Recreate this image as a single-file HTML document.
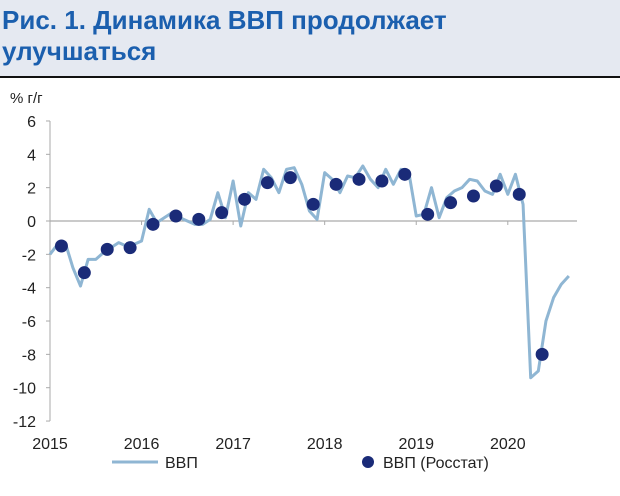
<!DOCTYPE html>
<html><head><meta charset="utf-8"><style>
body{margin:0;width:620px;height:496px;background:#fff;font-family:"Liberation Sans",sans-serif;overflow:hidden}
#hdr{position:absolute;left:0;top:0;width:620px;height:76px;background:#e5e9f1;border-bottom:2px solid #111}
#title{position:absolute;left:2px;top:5px;font-size:26px;font-weight:bold;color:#1b5fae;line-height:31px;white-space:nowrap}
</style></head><body>
<div id="hdr"><div id="title">Рис. 1. Динамика ВВП продолжает<br>улучшаться</div></div>
<svg id="chart" width="620" height="496" style="position:absolute;left:0;top:0"></svg>
<script>
const yTicks=[6,4,2,0,-2,-4,-6,-8,-10,-12];
const xYears=["2015","2016","2017","2018","2019","2020"];
const monthly=[-2.0,-1.4,-1.3,-2.8,-3.9,-2.3,-2.3,-1.9,-1.6,-1.3,-1.5,-1.4,
-1.2,0.7,-0.1,0.2,0.5,0.2,0.0,-0.2,-0.2,0.1,1.7,0.2,
2.4,-0.3,1.7,1.3,3.1,2.6,1.7,3.1,3.2,2.2,0.6,0.1,
2.9,2.5,1.7,2.7,2.6,3.3,2.5,2.0,3.1,2.2,3.1,3.0,
0.3,0.4,2.0,0.2,1.4,1.8,2.0,2.5,2.4,1.8,1.6,2.8,
1.6,2.8,1.0,-9.4,-9.0,-6.0,-4.6,-3.8,-3.3];
const quarterly=[-1.5,-3.1,-1.7,-1.6,-0.2,0.3,0.1,0.5,1.3,2.3,2.6,1.0,2.2,2.5,2.4,2.8,0.4,1.1,1.5,2.1,1.6,-8.0];
const svg=document.getElementById('chart');const NS='http://www.w3.org/2000/svg';
const X=m=>50+7.63*m; const Y=v=>221-v*16.67;
function el(t,a,p){const e=document.createElementNS(NS,t);for(const k in a)e.setAttribute(k,a[k]);(p||svg).appendChild(e);return e;}
let t=el('text',{x:10,y:103,'font-size':15,fill:'#222'});t.textContent='% г/г';


let ax=el('line',{x1:50,y1:Y(6),x2:50,y2:Y(-12),stroke:'#aaa','stroke-width':1});


yTicks.forEach(v=>{el('line',{x1:46,y1:Y(v),x2:50,y2:Y(v),stroke:'#aaa'});
const l=el('text',{x:36,y:Y(v)+6,'font-size':16,'text-anchor':'end',fill:'#222'});l.textContent=v;

});
let zx=el('line',{x1:50,y1:Y(0),x2:577,y2:Y(0),stroke:'#aaa','stroke-width':1.3});


xYears.forEach((y,i)=>{const x=X(12*i);el('line',{x1:x,y1:Y(0),x2:x,y2:Y(0)+4,stroke:'#aaa'});
const l=el('text',{x:x,y:449,'font-size':16,'text-anchor':'middle',fill:'#222'});l.textContent=y;

});
let pl=el('polyline',{points:monthly.map((v,i)=>X(i)+','+Y(v)).join(' '),fill:'none',stroke:'#8fb6d3','stroke-width':3,'stroke-linejoin':'round'});


quarterly.forEach((v,i)=>{const c=el('circle',{cx:X(1.5+3*i),cy:Y(v),r:6.5,fill:'#1a2b78'});

});
let ll=el('line',{x1:112,y1:462,x2:158,y2:462,stroke:'#8fb6d3','stroke-width':3});


let lt=el('text',{x:165,y:468,'font-size':16,fill:'#222'});lt.textContent='ВВП';


let lc=el('circle',{cx:368,cy:462,r:6,fill:'#1a2b78'});


let lt2=el('text',{x:383,y:468,'font-size':16,fill:'#222'});lt2.textContent='ВВП (Росстат)';


</script>
</body></html>
